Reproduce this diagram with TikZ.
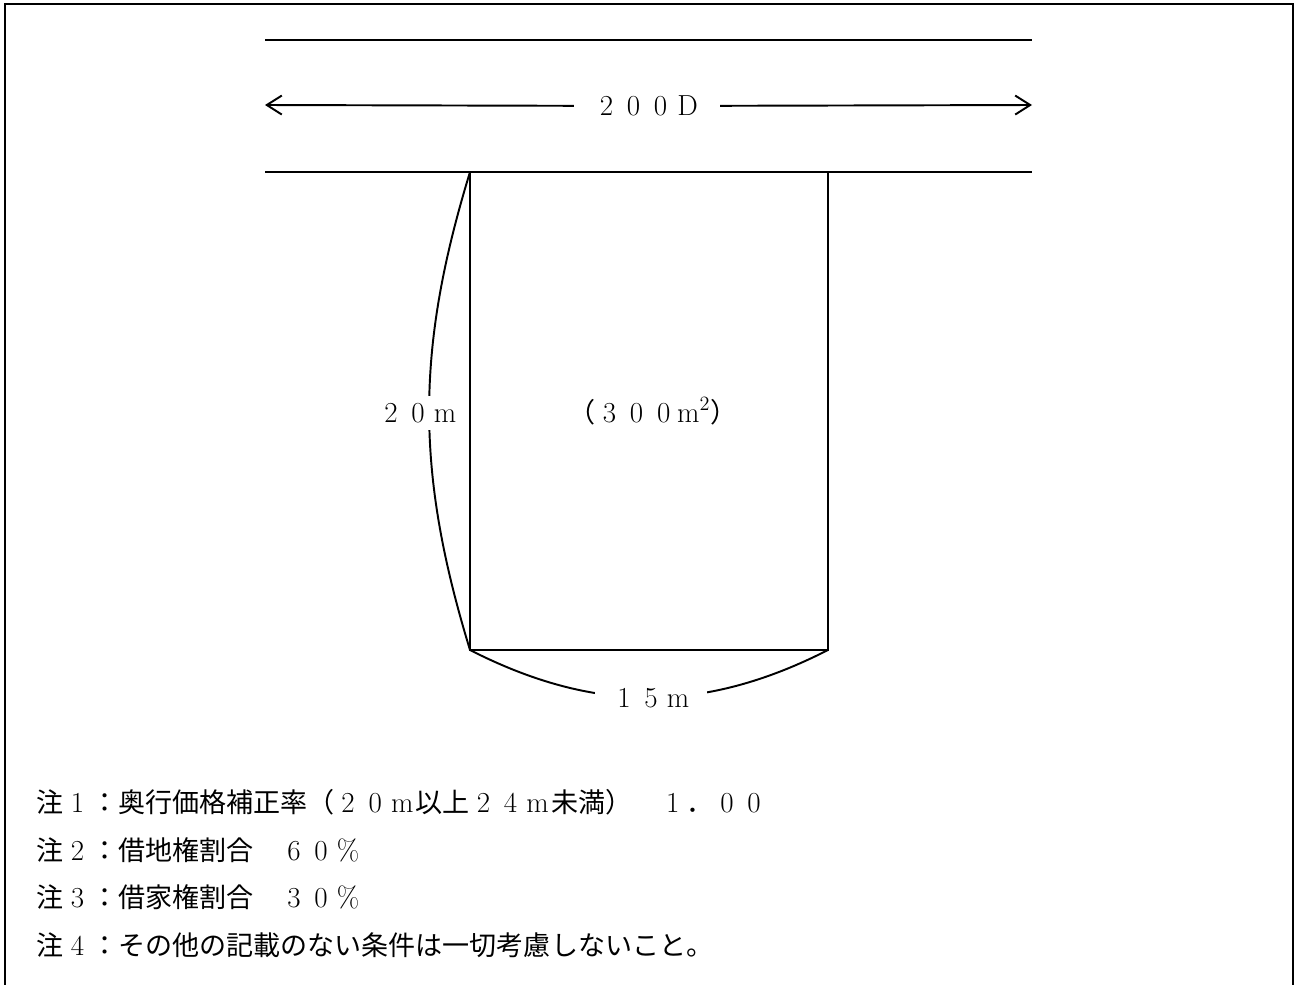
\documentclass[tikz,border=0pt]{standalone}
\usepackage{fontspec}
\usepackage{tikz}
\usetikzlibrary{arrows.meta}
\newfontfamily\jpfont{Noto Sans CJK JP}
\newcommand\jp[1]{{\jpfont #1}}
\def\zenloop#1{\ifx\relax#1\else\makebox[15.4pt]{\fontsize{16.5pt}{18pt}\selectfont #1}\expandafter\zenloop\fi}
\newcommand\zen[1]{\zenloop#1\relax}
\tikzset{
	wlbl/.style={fill=white,inner xsep=#1,inner ysep=4pt},
	note/.style={anchor=west,inner sep=0pt},
	barb/.style={arrows={-Straight Barb[length=0.3cm,width=0.38cm]}}
}

\begin{document}
\begin{tikzpicture}[x=0.02cm,y=-0.02cm,line width=1.1pt,font=\fontsize{15.4pt}{18pt}\selectfont]
	\useasboundingbox (0,0) rectangle (1297,984);
	\coordinate (fa) at (5,990);
	\coordinate (fb) at (5,4);
	\coordinate (fc) at (1293,4);
	\coordinate (fd) at (1293,990);
	\draw (fa) -- (fb) -- (fc) -- (fd);

	\coordinate (r1) at (265,40);
	\coordinate (r2) at (1032,40);
	\coordinate (r3) at (265,172);
	\coordinate (r4) at (1032,172);
	\draw (r1) -- (r2);
	\draw (r3) -- (r4);

	\coordinate (al) at (265,105);
	\coordinate (ar) at (1032,105);
	\node [inner xsep=0.36cm] (road) at (647,106) {\zen{200D}};
	\draw [barb] (road) -- (al);
	\draw [barb] (road) -- (ar);

	\coordinate (a) at (470,172);
	\coordinate (b) at (828,172);
	\coordinate (c) at (828,650);
	\coordinate (d) at (470,650);
	\draw (a) -- (b) -- (c) -- (d) -- cycle;
	\draw (a) to[bend right=17] (d);
	\draw (d) to[bend right=27] (c);
	\node [wlbl=0pt] (depth) at (418,413) {\zen{20m}};
	\node [wlbl=0.3cm] (front) at (651,698) {\zen{15m}};
	\node [anchor=base west,inner sep=0pt] (area) at (568,422) {\jp{（}\zen{300}{\fontsize{16.5pt}{18pt}\selectfont m\textsuperscript{2}}\jp{）}};

	\node [note] (n1) at (36,802) {\jp{注}\zen{1}\jp{：奥行価格補正率（}\zen{20m}\jp{以上}\zen{24m}\jp{未満）　}\zen{1}\jp{．}\zen{00}};
	\node [note] (n2) at (36,850) {\jp{注}\zen{2}\jp{：借地権割合　}\zen{60\%}};
	\node [note] (n3) at (36,897) {\jp{注}\zen{3}\jp{：借家権割合　}\zen{30\%}};
	\node [note] (n4) at (36,945) {\jp{注}\zen{4}\jp{：その他の記載のない条件は一切考慮しないこと。}};
\end{tikzpicture}
\end{document}
